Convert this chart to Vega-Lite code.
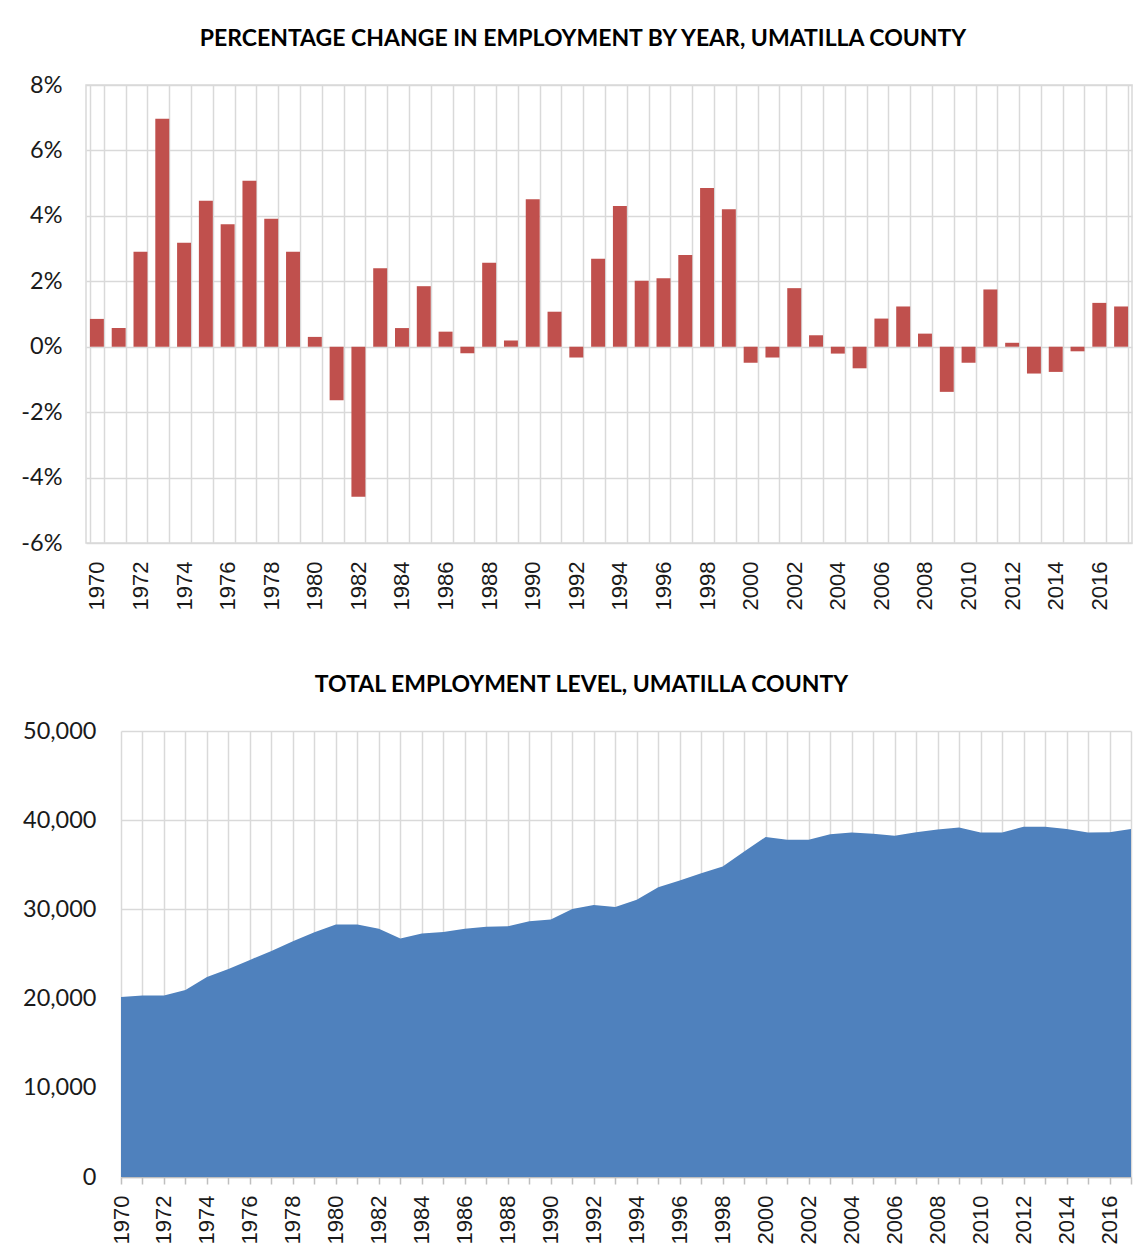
{
  "$schema": "https://vega.github.io/schema/vega-lite/v6.json",
  "background": "white",
  "padding": {"left": 20, "top": 27, "right": 0, "bottom": 0},
  "config": {
    "view": {"stroke": "#D9D9D9", "strokeWidth": 1.5},
    "axis": {"gridColor": "#D9D9D9", "gridWidth": 1.5, "domain": false, "title": null, "labelColor": "#1a1a1a"},
    "title": {"font": "Lato", "fontWeight": "bold", "fontSize": 23, "color": "#000000", "anchor": "middle"}
  },
  "datasets": {
    "pct": [
      {"year": 1970, "change": 0.0085}, {"year": 1971, "change": 0.0057}, {"year": 1972, "change": 0.029},
      {"year": 1973, "change": 0.0697}, {"year": 1974, "change": 0.0318}, {"year": 1975, "change": 0.0446},
      {"year": 1976, "change": 0.0374}, {"year": 1977, "change": 0.0507}, {"year": 1978, "change": 0.0391},
      {"year": 1979, "change": 0.029}, {"year": 1980, "change": 0.003}, {"year": 1981, "change": -0.0164},
      {"year": 1982, "change": -0.0459}, {"year": 1983, "change": 0.024}, {"year": 1984, "change": 0.0057},
      {"year": 1985, "change": 0.0185}, {"year": 1986, "change": 0.0046}, {"year": 1987, "change": -0.002},
      {"year": 1988, "change": 0.0257}, {"year": 1989, "change": 0.0019}, {"year": 1990, "change": 0.0451},
      {"year": 1991, "change": 0.0107}, {"year": 1992, "change": -0.0033}, {"year": 1993, "change": 0.0269},
      {"year": 1994, "change": 0.043}, {"year": 1995, "change": 0.0202}, {"year": 1996, "change": 0.0209},
      {"year": 1997, "change": 0.028}, {"year": 1998, "change": 0.0485}, {"year": 1999, "change": 0.042},
      {"year": 2000, "change": -0.0049}, {"year": 2001, "change": -0.0033}, {"year": 2002, "change": 0.0179},
      {"year": 2003, "change": 0.0035}, {"year": 2004, "change": -0.0021}, {"year": 2005, "change": -0.0066},
      {"year": 2006, "change": 0.0086}, {"year": 2007, "change": 0.0123}, {"year": 2008, "change": 0.004},
      {"year": 2009, "change": -0.0138}, {"year": 2010, "change": -0.0049}, {"year": 2011, "change": 0.0175},
      {"year": 2012, "change": 0.0012}, {"year": 2013, "change": -0.0082}, {"year": 2014, "change": -0.0077},
      {"year": 2015, "change": -0.0014}, {"year": 2016, "change": 0.0134}, {"year": 2017, "change": 0.0123}
    ],
    "jobs": [
      {"year": 1970, "employment": 20170}, {"year": 1971, "employment": 20350}, {"year": 1972, "employment": 20350},
      {"year": 1973, "employment": 20970}, {"year": 1974, "employment": 22430}, {"year": 1975, "employment": 23320},
      {"year": 1976, "employment": 24340}, {"year": 1977, "employment": 25350}, {"year": 1978, "employment": 26420},
      {"year": 1979, "employment": 27440}, {"year": 1980, "employment": 28320}, {"year": 1981, "employment": 28320},
      {"year": 1982, "employment": 27840}, {"year": 1983, "employment": 26730}, {"year": 1984, "employment": 27300},
      {"year": 1985, "employment": 27480}, {"year": 1986, "employment": 27840}, {"year": 1987, "employment": 28060},
      {"year": 1988, "employment": 28100}, {"year": 1989, "employment": 28680}, {"year": 1990, "employment": 28860},
      {"year": 1991, "employment": 30050}, {"year": 1992, "employment": 30500}, {"year": 1993, "employment": 30280},
      {"year": 1994, "employment": 31070}, {"year": 1995, "employment": 32490}, {"year": 1996, "employment": 33240},
      {"year": 1997, "employment": 34040}, {"year": 1998, "employment": 34800}, {"year": 1999, "employment": 36480},
      {"year": 2000, "employment": 38120}, {"year": 2001, "employment": 37810}, {"year": 2002, "employment": 37810},
      {"year": 2003, "employment": 38430}, {"year": 2004, "employment": 38610}, {"year": 2005, "employment": 38480},
      {"year": 2006, "employment": 38250}, {"year": 2007, "employment": 38650}, {"year": 2008, "employment": 38960},
      {"year": 2009, "employment": 39180}, {"year": 2010, "employment": 38610}, {"year": 2011, "employment": 38610},
      {"year": 2012, "employment": 39270}, {"year": 2013, "employment": 39270}, {"year": 2014, "employment": 39000},
      {"year": 2015, "employment": 38610}, {"year": 2016, "employment": 38650}, {"year": 2017, "employment": 39000}
    ]
  },
  "spacing": 63,
  "vconcat": [
    {
      "width": 1046,
      "height": 458,
      "title": {"text": "PERCENTAGE CHANGE IN EMPLOYMENT BY YEAR, UMATILLA COUNTY", "frame": "group", "dx": -26, "offset": 22},
      "data": {"name": "pct"},
      "mark": {"type": "bar", "color": "#C0504D"},
      "encoding": {
        "x": {
          "field": "year", "type": "ordinal",
          "scale": {"paddingInner": 0.36, "paddingOuter": 0.18},
          "axis": {
            "tickBand": "extent", "ticks": false, "grid": true,
            "labelAngle": -90, "labelAlign": "right", "labelBaseline": "middle",
            "labelPadding": 18, "labelFont": "Liberation Sans", "labelFontSize": 22,
            "labelOverlap": false, "labelBound": false,
            "labelExpr": "datum.value % 2 == 0 ? datum.label : ''"
          }
        },
        "y": {
          "field": "change", "type": "quantitative",
          "scale": {"domain": [-0.06, 0.08], "nice": false},
          "axis": {
            "values": [-0.06, -0.04, -0.02, 0, 0.02, 0.04, 0.06, 0.08],
            "labelExpr": "round(datum.value * 100) + '%'",
            "labelFont": "Lato", "labelFontSize": 23.5, "labelPadding": 24, "ticks": false
          }
        }
      }
    },
    {
      "width": 1045,
      "height": 446,
      "view": {"stroke": null},
      "title": {"text": "TOTAL EMPLOYMENT LEVEL, UMATILLA COUNTY", "frame": "group", "dx": -27, "offset": 22},
      "data": {"name": "jobs"},
      "mark": {"type": "area", "color": "#4F81BD", "opacity": 1},
      "encoding": {
        "x": {
          "field": "year", "type": "ordinal",
          "scale": {"type": "point", "padding": 0, "range": [35, 1045]},
          "axis": {
            "grid": true, "ticks": true, "tickSize": 7, "tickColor": "#BFBFBF", "tickWidth": 1.5,
            "domain": true, "domainColor": "#BFBFBF", "domainWidth": 1.5,
            "labelAngle": -90, "labelAlign": "right", "labelBaseline": "middle",
            "labelPadding": 11, "labelFont": "Liberation Sans", "labelFontSize": 22,
            "labelOverlap": false, "labelBound": false,
            "labelExpr": "datum.value % 2 == 0 ? datum.label : ''"
          }
        },
        "y": {
          "field": "employment", "type": "quantitative",
          "scale": {"domain": [0, 50000], "nice": false},
          "axis": {
            "values": [0, 10000, 20000, 30000, 40000, 50000],
            "format": ",.0f", "offset": -35,
            "labelFont": "Lato", "labelFontSize": 23.5, "labelPadding": 25, "ticks": false
          }
        }
      }
    }
  ]
}
